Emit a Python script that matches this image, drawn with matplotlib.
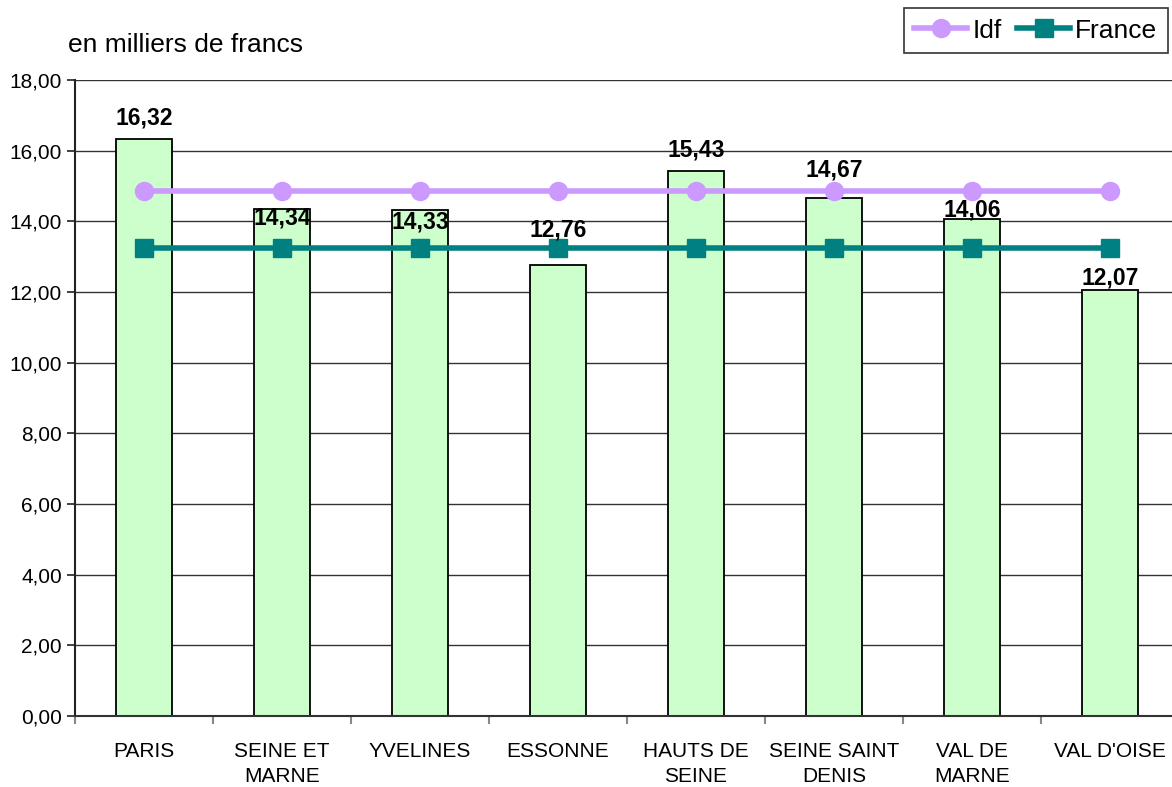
import numpy as np
import matplotlib
matplotlib.use("Agg")
import matplotlib.pyplot as plt
from matplotlib.ticker import FuncFormatter

plt.rcParams['font.family'] = ['Liberation Sans', 'DejaVu Sans']

# ---- data -----------------------------------------------------------------
departements = ['PARIS', 'SEINE ET\nMARNE', 'YVELINES', 'ESSONNE',
                'HAUTS DE\nSEINE', 'SEINE SAINT\nDENIS', 'VAL DE\nMARNE',
                "VAL D'OISE"]
valeurs = [16.32, 14.34, 14.33, 12.76, 15.43, 14.67, 14.06, 12.07]
idf = [14.87] * 8
france = [13.24] * 8

# label shifts (pixels above bar top) as placed in the original
label_shift = [21, -9, -12, 35, 21, 28, 9, 12]

# ---- figure ---------------------------------------------------------------
fig = plt.figure(figsize=(11.72, 7.87), dpi=100)
ax = fig.add_axes([75/1172, 71/787, 1104/1172, 636/787])

x = np.arange(len(departements))
ax.bar(x, valeurs, width=0.41, color='#CCFFCC', edgecolor='black', lw=1.3,
       zorder=2)
ax.plot(x, idf, '-o', color='#CC99FF', lw=4, ms=13, label='Idf', zorder=3)
ax.plot(x, france, '-s', color='#008080', lw=4, ms=13, label='France',
        zorder=4)

for xi, v, s in zip(x, valeurs, label_shift):
    ax.annotate(f"{v:.2f}".replace('.', ','), (xi, v),
                xytext=(0, s * 0.72), textcoords='offset points',
                ha='center', va='center', fontsize=16.5, fontweight='bold',
                zorder=5)

ax.set_xlim(-0.5, len(departements) - 0.5)
ax.set_ylim(0, 18)
ax.set_yticks(np.arange(0, 18.1, 2))
ax.yaxis.set_major_formatter(FuncFormatter(lambda v, p: f"{v:.2f}".replace('.', ',')))
ax.grid(axis='y', color='#333333', lw=1, zorder=0)

ax.set_xticks(x)
ax.set_xticklabels(departements, fontsize=15, linespacing=1.4)
ax.set_xticks(np.arange(-0.5, len(departements), 1), minor=True)
ax.tick_params(axis='x', which='major', length=0, pad=19)
ax.tick_params(axis='x', which='minor', length=6, color='#888888', width=1.5)
ax.tick_params(axis='y', labelsize=15, length=6, width=1.3, color='#333333')

for sp in ['top', 'right']:
    ax.spines[sp].set_visible(False)
ax.spines['left'].set_linewidth(1.5)
ax.spines['left'].set_color('#222222')
ax.spines['bottom'].set_linewidth(1.5)
ax.spines['bottom'].set_color('#333333')

fig.text(68/1172, 1 - 45/787, 'en milliers de francs', fontsize=19,
         va='center', ha='left')

leg = fig.legend(loc='upper right', bbox_to_anchor=(1168/1172, 1 - 8/787),
                 ncol=2, fontsize=19, frameon=True, fancybox=False,
                 edgecolor='black', handlelength=2.0, handletextpad=0.2,
                 columnspacing=0.6, borderpad=0.4, borderaxespad=0)
leg.get_frame().set_linewidth(1.2)

fig.savefig('out.png', dpi=100)
